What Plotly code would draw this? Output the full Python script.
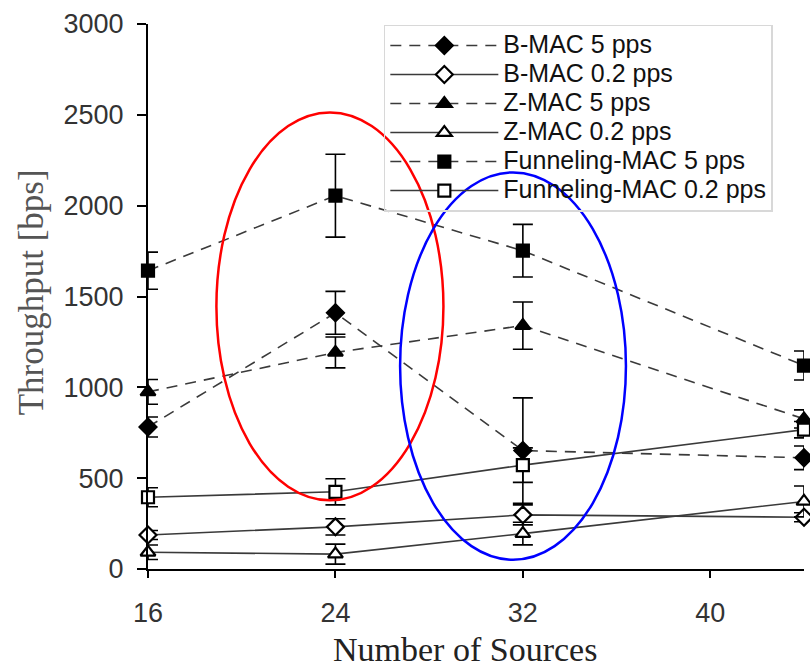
import plotly.graph_objects as go

# ---- data ----
sources = [16, 24, 32, 44]

bmac_5 = [782, 1410, 652, 612]
bmac_5_err = [55, 118, 290, 65]
bmac_02 = [187, 232, 298, 285]
bmac_02_err = [25, 45, 55, 25]

zmac_5 = [975, 1192, 1340, 826]
zmac_5_err = [68, 85, 130, 50]
zmac_02 = [92, 82, 195, 372]
zmac_02_err = [40, 55, 62, 85]

fmac_5 = [1642, 2055, 1752, 1120]
fmac_5_err = [102, 228, 145, 80]
fmac_02 = [395, 425, 572, 767]
fmac_02_err = [52, 72, 95, 45]

x_ticks = [16, 24, 32, 40]
y_ticks = [0, 500, 1000, 1500, 2000, 2500, 3000]

# highlight ellipses (data coords)
red_ellipse = dict(x0=18.92, x1=28.61, y0=378, y1=2513)
blue_ellipse = dict(x0=26.76, x1=36.40, y0=51, y1=2183)

series = [
    ("B-MAC 5 pps", bmac_5, bmac_5_err, "diamond", "black", "dash"),
    ("B-MAC 0.2 pps", bmac_02, bmac_02_err, "diamond", "white", "solid"),
    ("Z-MAC 5 pps", zmac_5, zmac_5_err, "triangle-up", "black", "dash"),
    ("Z-MAC 0.2 pps", zmac_02, zmac_02_err, "triangle-up", "white", "solid"),
    ("Funneling-MAC 5 pps", fmac_5, fmac_5_err, "square", "black", "dash"),
    ("Funneling-MAC 0.2 pps", fmac_02, fmac_02_err, "square", "white", "solid"),
]

fig = go.Figure()
for name, vals, errs, sym, fill, dash in series:
    size = 13 if sym != "square" else 12
    fig.add_trace(go.Scatter(
        x=sources, y=vals,
        mode="lines+markers",
        name='<span style="font-size:25px">' + name + '</span>',
        line=dict(color="#3a3a3a", width=1.6,
                  dash="11px,8px" if dash == "dash" else "solid"),
        marker=dict(symbol=sym, size=size, color=fill,
                    line=dict(color="black", width=2.2)),
        error_y=dict(type="data", array=errs, visible=True,
                     color="black", thickness=1.6, width=10),
        cliponaxis=False,
    ))

for e, col in ((red_ellipse, "#ff0000"), (blue_ellipse, "#0000ff")):
    fig.add_shape(type="circle", xref="x", yref="y",
                  x0=e["x0"], x1=e["x1"], y0=e["y0"], y1=e["y1"],
                  line=dict(color=col, width=2.5), layer="above")

fig.add_annotation(text="Throughput [bps]", xref="paper", yref="paper",
                   x=-0.1774, y=0.507, textangle=-90, showarrow=False,
                   xanchor="center", yanchor="middle",
                   font=dict(family="Liberation Serif", size=35, color="#555555"))
fig.add_annotation(text="Number of Sources", xref="paper", yref="paper",
                   x=0.483, y=-0.186, showarrow=False,
                   xanchor="center", yanchor="bottom",
                   font=dict(family="Liberation Serif", size=34, color="#222222"))

fig.update_layout(
    width=810, height=669,
    margin=dict(l=148.3, r=6, t=24.3, b=99.7),
    paper_bgcolor="white", plot_bgcolor="white",
    font=dict(family="Liberation Sans, Arial", color="#222222"),
    showlegend=True,
    legend=dict(x=0.3595, y=0.999, xanchor="left", yanchor="top",
                bgcolor="rgba(0,0,0,0)", bordercolor="#d8d8d8", borderwidth=1.5,
                font=dict(size=20, color="#111111"), itemwidth=108,
                tracegroupgap=0),
    xaxis=dict(range=[16, 44], tickvals=x_ticks, showgrid=False, zeroline=False,
               showline=True, linecolor="black", linewidth=2,
               ticks="outside", ticklen=7, tickwidth=2, tickcolor="black",
               tickfont=dict(size=27, color="#333333"), ticklabelstandoff=12),
    yaxis=dict(range=[0, 3000], tickvals=y_ticks, showgrid=False, zeroline=False,
               showline=True, linecolor="black", linewidth=2,
               ticks="outside", ticklen=9, tickwidth=2, tickcolor="black",
               tickfont=dict(size=27, color="#333333"), ticklabelstandoff=8),
)

fig.write_html("out.html")
